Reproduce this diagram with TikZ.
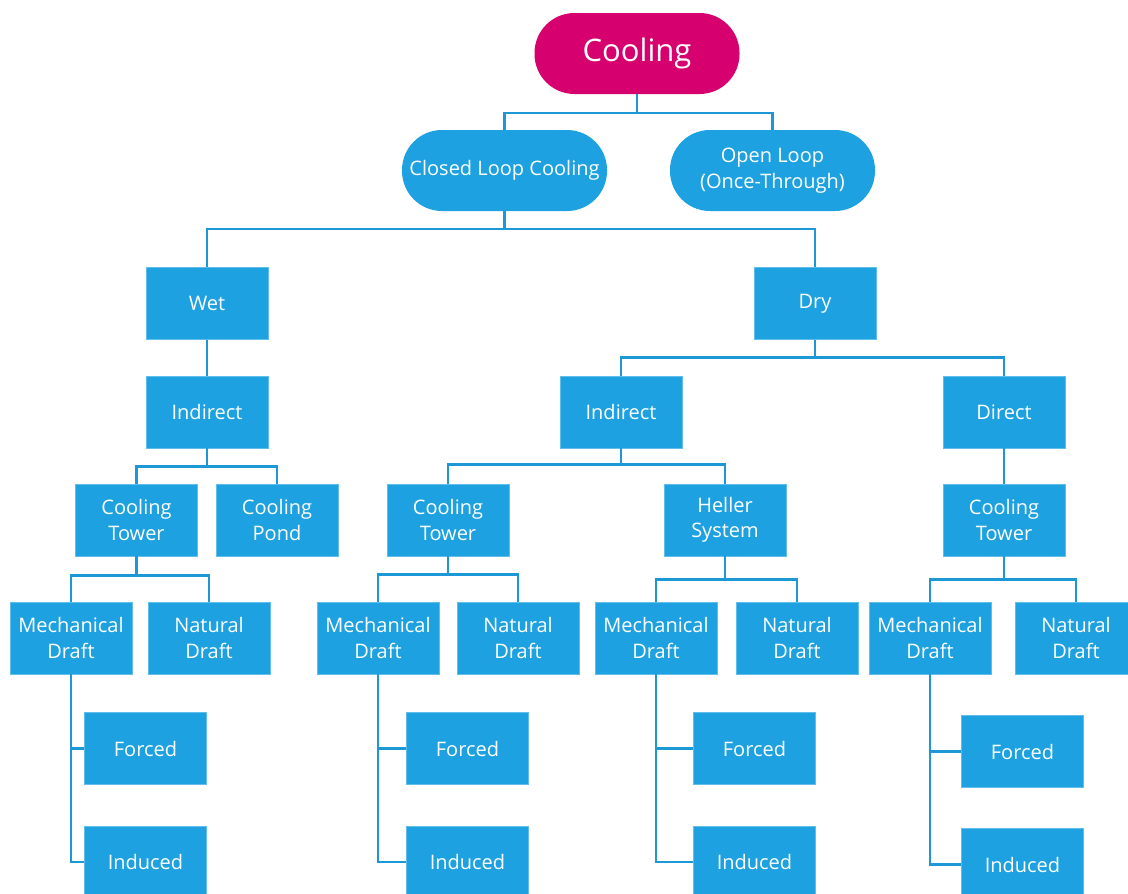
\documentclass[tikz,border=0pt]{standalone}
\usepackage{fontspec}
\setmainfont{Open Sans}
\definecolor{boxblue}{HTML}{1EA1E0}
\definecolor{lineblue}{HTML}{1C98D6}
\definecolor{rootpink}{HTML}{D6006F}
\tikzset{
  blk/.style={fill=boxblue, draw=boxblue!70!white, line width=0.8pt, text=white, minimum width=122pt, minimum height=72pt, inner sep=0pt, align=center, font=\fontsize{20}{25.5}\selectfont},
  pill/.style={fill=boxblue, text=white, minimum width=205pt, minimum height=81pt, rounded corners=40pt, inner sep=0pt, align=center, font=\fontsize{20}{25.5}\selectfont},
  conn/.style={draw=lineblue, line width=2.6pt}
}
\begin{document}
\begin{tikzpicture}[x=1pt,y=-1pt]
\useasboundingbox[fill=white] (0,0) rectangle (1128,894);
% root level
\node[pill, fill=rootpink, font=\fontsize{31}{36}\selectfont] (cool) at (637,53.5) {Cooling};
\node[pill] (closed) at (504.5,170.5) {Closed Loop Cooling};
\node[pill] (open) at (772.5,170.5) {Open Loop\\(Once-Through)};
% level 2
\node[blk] (wet) at (207,303.5) {Wet};
\node[blk] (dry) at (815,303.5) {Dry\vphantom{W}};
% level 3
\node[blk] (windir) at (207,412) {Indirect};
\node[blk] (dindir) at (621,412) {Indirect};
\node[blk] (direct) at (1004,412) {Direct};
% level 4
\node[blk] (ct1) at (136.5,520) {Cooling\\Tower};
\node[blk] (pond) at (277,520) {Cooling\\Pond};
\node[blk] (ct2) at (448,520) {Cooling\\Tower};
\node[blk] (heller) at (725,520) {Heller\\System};
\node[blk] (ct3) at (1004,520) {Cooling\\Tower};
% level 5
\node[blk] (md1) at (71,638) {Mechanical\\Draft};
\node[blk] (nd1) at (209,638) {Natural\\Draft};
\node[blk] (md2) at (378,638) {Mechanical\\Draft};
\node[blk] (nd2) at (518,638) {Natural\\Draft};
\node[blk] (md3) at (656,638) {Mechanical\\Draft};
\node[blk] (nd3) at (797,638) {Natural\\Draft};
\node[blk] (md4) at (930,638) {Mechanical\\Draft};
\node[blk] (nd4) at (1076,638) {Natural\\Draft};
% level 6
\node[blk] (f1) at (145.5,748.5) {Forced};
\node[blk] (i1) at (145.5,862) {Induced};
\node[blk] (f2) at (467.5,748.5) {Forced};
\node[blk] (i2) at (467.5,862) {Induced};
\node[blk] (f3) at (754.5,748.5) {Forced};
\node[blk] (i3) at (754.5,862) {Induced};
\node[blk] (f4) at (1022.5,751.5) {Forced};
\node[blk] (i4) at (1022.5,864.5) {Induced};
% connectors
\draw[conn] (cool.south) -- ++(0,19);
\draw[conn] (closed.north) -- ++(0,-17) -| (open.north);
\draw[conn] (closed.south) -- ++(0,18);
\draw[conn] (wet.north) -- ++(0,-38) -| (dry.north);
\draw[conn] (wet.south) -- (windir.north);
\draw[conn] (dry.south) -- ++(0,18);
\draw[conn] (dindir.north) -- ++(0,-18) -| (direct.north);
\draw[conn] (windir.south) -- ++(0,19);
\draw[conn] (ct1.north) -- ++(0,-17) -| (pond.north);
\draw[conn] (dindir.south) -- ++(0,17);
\draw[conn] (ct2.north) -- ++(0,-19) -| (heller.north);
\draw[conn] (direct.south) -- (ct3.north);
\draw[conn] (ct1.south) -- ++(0,20);
\draw[conn] (md1.north) -- ++(0,-26) -| (nd1.north);
\draw[conn] (ct2.south) -- ++(0,19);
\draw[conn] (md2.north) -- ++(0,-27) -| (nd2.north);
\draw[conn] (heller.south) -- ++(0,22);
\draw[conn] (md3.north) -- ++(0,-22) -| (nd3.north);
\draw[conn] (ct3.south) -- ++(0,24);
\draw[conn] (md4.north) -- ++(0,-22) -| (nd4.north);
\draw[conn] (md1.south) |- (f1.west);
\draw[conn] (md1.south) |- (i1.west);
\draw[conn] (md2.south) |- (f2.west);
\draw[conn] (md2.south) |- (i2.west);
\draw[conn] (md3.south) |- (f3.west);
\draw[conn] (md3.south) |- (i3.west);
\draw[conn] (md4.south) |- (f4.west);
\draw[conn] (md4.south) |- (i4.west);
\end{tikzpicture}
\end{document}
